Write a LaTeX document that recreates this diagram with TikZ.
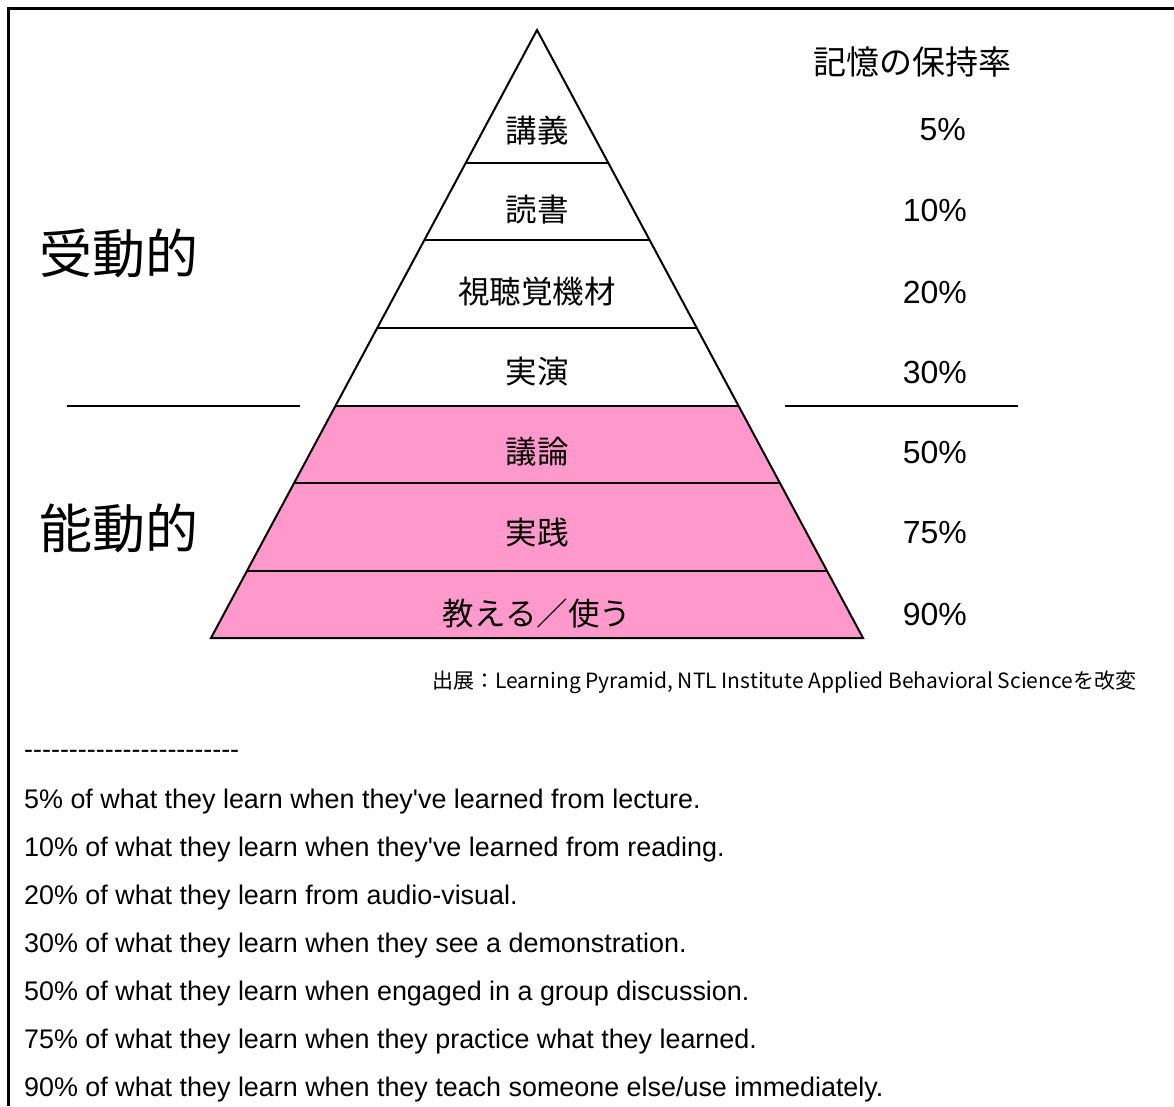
\documentclass[tikz,border=0pt]{standalone}
\usepackage{fontspec}
\setmainfont{Liberation Sans}
\newfontfamily\jp{Noto Sans CJK JP}
\definecolor{pyrpink}{HTML}{FF99CC}
\newcommand{\sq}{\textquotesingle}
\tikzset{
  layer/.style={font=\jp\fontsize{31.5}{36}\selectfont, inner sep=0pt},
  pct/.style={font=\fontsize{32}{36}\selectfont, anchor=east, inner sep=0pt},
  side/.style={font=\jp\fontsize{53}{60}\selectfont, inner sep=0pt},
  eng/.style={font=\fontsize{26.9}{30}\selectfont, anchor=west, inner sep=0pt},
  edge/.style={line width=2pt, line join=miter},
}
\begin{document}
\begin{tikzpicture}[x=1pt,y=-1pt]
\useasboundingbox (0,0) rectangle (1174,1106);
% frame
\draw[line width=2.5pt] (8.5,1106) -- (8.5,8.5) -- (1174,8.5);
% active part fill
\fill[pyrpink] (335.4,406) -- (738.6,406) -- (863,638) -- (211,638) -- cycle;
% pyramid outline
\draw[edge] (537,30) -- (863,638) -- (211,638) -- cycle;
\foreach \yy in {163,240,328,406,483,571}{
  \pgfmathsetmacro{\dx}{0.53618*(\yy-30)}
  \draw[edge] ({537-\dx},\yy) -- ({537+\dx},\yy);
}
% separators
\draw[edge] (67,406) -- (300,406);
\draw[edge] (785,406) -- (1018,406);
% side labels
\node[side] (passive) at (119,253) {受動的};
\node[side] (active) at (119,528) {能動的};
% heading
\node[font=\jp\fontsize{33}{38}\selectfont, inner sep=0pt] (head) at (912,62) {記憶の保持率};
% layer labels
\node[layer] (l1) at (537,130) {講義};
\node[layer] (l2) at (537,210) {読書};
\node[layer] (l3) at (537,292) {視聴覚機材};
\node[layer] (l4) at (537,372) {実演};
\node[layer] (l5) at (537,452) {議論};
\node[layer] (l6) at (537,533) {実践};
\node[layer] (l7) at (537,614) {教える／使う};
% percentages
\node[pct] (p1) at (966,130) {5\%};
\node[pct] (p2) at (967,210) {10\%};
\node[pct] (p3) at (967,292) {20\%};
\node[pct] (p4) at (967,372) {30\%};
\node[pct] (p5) at (967,452) {50\%};
\node[pct] (p6) at (967,533) {75\%};
\node[pct] (p7) at (967,614) {90\%};
% source
\node[font=\jp\fontsize{21}{24}\selectfont, anchor=west, inner sep=0pt] (src) at (432,682) {出展：Learning Pyramid, NTL Institute Applied Behavioral Scienceを改変};
% notes
\node[eng] (dash) at (24,754) {-{}-{}-{}-{}-{}-{}-{}-{}-{}-{}-{}-{}-{}-{}-{}-{}-{}-{}-{}-{}-{}-{}-{}-};
\node[eng] (e1) at (24,802) {5\% of what they learn when they\sq ve learned from lecture.};
\node[eng] (e2) at (24,850) {10\% of what they learn when they\sq ve learned from reading.};
\node[eng] (e3) at (24,898) {20\% of what they learn from audio-visual.};
\node[eng] (e4) at (24,946) {30\% of what they learn when they see a demonstration.};
\node[eng] (e5) at (24,994) {50\% of what they learn when engaged in a group discussion.};
\node[eng] (e6) at (24,1042) {75\% of what they learn when they practice what they learned.};
\node[eng] (e7) at (24,1090) {90\% of what they learn when they teach someone else/use immediately.};
\end{tikzpicture}
\end{document}
